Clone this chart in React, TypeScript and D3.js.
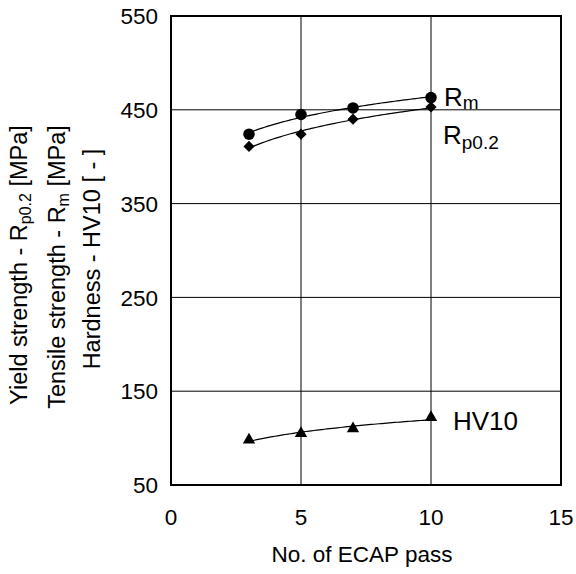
import React from "react";
import * as d3 from "d3";

const passes = [3, 5, 7, 10];
const rmValues = [424, 445, 452, 463];
const rpValues = [411, 424, 440, 453];
const hvValues = [98, 105, 110, 122];
const xTicks = [0, 5, 10, 15];
const yTicks = [50, 150, 250, 350, 450, 550];

const W = 576;
const H = 574;
const m = { left: 171, right: 561, top: 16, bottom: 485 };
const FONT = "'Liberation Sans', Arial, sans-serif";

function logFit(xs: number[], ys: number[]) {
  const lx = xs.map((v) => Math.log(v));
  const mx = d3.mean(lx)!;
  const my = d3.mean(ys)!;
  const b = d3.sum(lx.map((v, i) => (v - mx) * (ys[i] - my))) / d3.sum(lx.map((v) => (v - mx) ** 2));
  const a = my - b * mx;
  return (x: number) => a + b * Math.log(x);
}

export default function App() {
  const x = d3.scaleLinear().domain([0, 15]).range([m.left, m.right]);
  const y = d3.scaleLinear().domain([50, 550]).range([m.bottom, m.top]);

  const xs = d3.range(0, 71).map((i) => 3 + (i * 7) / 70);
  const line = d3
    .line<[number, number]>()
    .x((d) => x(d[0]))
    .y((d) => y(d[1]));
  const curve = (vals: number[]) => {
    const f = logFit(passes, vals);
    return line(xs.map((v) => [v, f(v)] as [number, number]))!;
  };

  const circle = d3.symbol().type(d3.symbolCircle).size(104)()!;
  const diamond = d3.symbol().type(d3.symbolSquare).size(62)()!;
  const triangle = d3.symbol().type(d3.symbolTriangle).size(66)()!;

  return (
    <svg width={W} height={H} style={{ position: "absolute", left: 0, top: 0, background: "#fff" }} fontFamily={FONT}>
      <rect x={0} y={0} width={W} height={H} fill="#fff" />
      {/* grid */}
      {xTicks.slice(1, -1).map((t) => (
        <line key={"gx" + t} x1={x(t)} x2={x(t)} y1={m.top} y2={m.bottom} stroke="#000" strokeWidth={1} />
      ))}
      {yTicks.slice(1, -1).map((t) => (
        <line key={"gy" + t} x1={m.left} x2={m.right} y1={y(t)} y2={y(t)} stroke="#000" strokeWidth={1} />
      ))}
      <rect x={m.left} y={m.top} width={m.right - m.left} height={m.bottom - m.top} fill="none" stroke="#000" strokeWidth={2} />

      {/* tick labels */}
      {yTicks.map((t) => (
        <text key={"yl" + t} x={158} y={y(t)} dy="0.36em" textAnchor="end" fontSize={22.5}>
          {t}
        </text>
      ))}
      {xTicks.map((t) => (
        <text key={"xl" + t} x={x(t)} y={525} textAnchor="middle" fontSize={22.5}>
          {t}
        </text>
      ))}
      <text x={362} y={562} textAnchor="middle" fontSize={22.5}>
        No. of ECAP pass
      </text>

      {/* y titles */}
      <text transform="translate(27,265) rotate(-90)" textAnchor="middle" fontSize={23.5}>
        Yield strength - R<tspan fontSize={16} dy={4}>p0.2</tspan>
        <tspan dy={-4}> [MPa]</tspan>
      </text>
      <text transform="translate(65,267) rotate(-90)" textAnchor="middle" fontSize={23.5}>
        Tensile strength - R<tspan fontSize={16} dy={4}>m</tspan>
        <tspan dy={-4}> [MPa]</tspan>
      </text>
      <text transform="translate(100,259) rotate(-90)" textAnchor="middle" fontSize={23.5}>
        Hardness - HV10 [ - ]
      </text>

      {/* curves */}
      <path d={curve(rmValues)} fill="none" stroke="#000" strokeWidth={1.2} />
      <path d={curve(rpValues)} fill="none" stroke="#000" strokeWidth={1.2} />
      <path d={curve(hvValues)} fill="none" stroke="#000" strokeWidth={1.2} />

      {/* markers */}
      {passes.map((p, i) => (
        <path key={"rm" + i} d={circle} transform={`translate(${x(p)},${y(rmValues[i])})`} fill="#000" />
      ))}
      {passes.map((p, i) => (
        <path key={"rp" + i} d={diamond} transform={`translate(${x(p)},${y(rpValues[i])}) rotate(45)`} fill="#000" />
      ))}
      {passes.map((p, i) => (
        <path key={"hv" + i} d={triangle} transform={`translate(${x(p)},${y(hvValues[i])})`} fill="#000" />
      ))}

      {/* series labels */}
      <text x={444} y={106} fontSize={26}>
        R<tspan fontSize={19} dy={3}>m</tspan>
      </text>
      <text x={443} y={144} fontSize={26}>
        R<tspan fontSize={19} dy={5}>p0.2</tspan>
      </text>
      <text x={453} y={430} fontSize={26}>
        HV10
      </text>
    </svg>
  );
}
